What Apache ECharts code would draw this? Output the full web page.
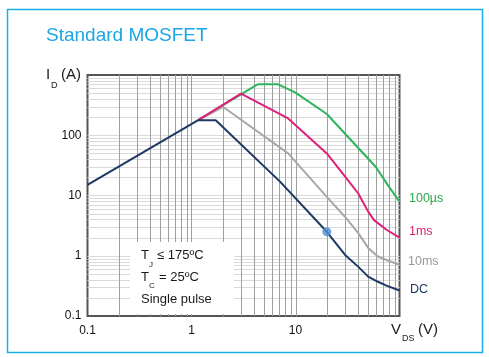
<!DOCTYPE html>
<html>
<head>
<meta charset="utf-8">
<script src="https://cdn.jsdelivr.net/npm/echarts@6/dist/echarts.min.js"></script>
<style>
html,body{margin:0;padding:0;background:#fff;}
#chart{width:489px;height:357px;}
</style>
</head>
<body>
<div id="chart"></div>
<script>
// ---- data ----
var xTickLabels = ['0.1', '1', '10'];
var yTickLabels = ['0.1', '1', '10', '100'];
var xGrid = [0.2,0.3,0.4,0.5,0.6,0.7,0.8,0.9,1,2,3,4,5,6,7,8,9,10,20,30,40,50,60,70,80,90];
var yGrid = [0.2,0.3,0.4,0.5,0.6,0.7,0.8,0.9,1,2,3,4,5,6,7,8,9,10,20,30,40,50,60,70,80,90,100,200,300,400,500,600,700,800,900];

var dcV = [0.1, 1.16, 1.71, 7.1, 20, 30, 40, 50, 62, 75, 100];
var dcI = [15, 178, 178, 17, 2.5, 1.03, 0.66, 0.45, 0.37, 0.32, 0.265];

var ms10V = [1.16, 2.02, 8.5, 20, 30, 40, 50, 62, 75, 100];
var ms10I = [178, 295, 50, 9.5, 4.4, 2.4, 1.35, 0.97, 0.85, 0.71];

var ms1V = [1.16, 2.99, 8.5, 20, 30, 40, 50, 57, 75, 100];
var ms1I = [178, 492, 190, 50, 20.5, 10.9, 5.4, 3.9, 2.7, 2.0];

var us100V = [1.16, 4.32, 6.8, 10, 20, 59, 77, 100];
var us100I = [178, 701, 701, 510, 225, 30, 15, 7.9];

var markerV = [20];
var markerI = [2.5];

var seriesNames = ['100µs', '1ms', '10ms', 'DC'];

// ---- helpers ----
function pairs(a, b) { return a.map(function (v, i) { return [v, b[i]]; }); }
function findLabel(v, list) {
  for (var i = 0; i < list.length; i++) {
    if (Math.abs(Math.log10(v) - Math.log10(parseFloat(list[i]))) < 1e-6) return list[i];
  }
  return '';
}
var X_MIN = 0.1, X_MAX = 100, Y_MIN = 0.1, Y_MAX = 1000;
var FONT = 'Liberation Sans, Arial, sans-serif';

function gridRender(color, vertical) {
  return function (params, api) {
    var p1, p2;
    if (vertical) {
      p1 = api.coord([api.value(0), Y_MIN]);
      p2 = api.coord([api.value(0), Y_MAX]);
      var x = Math.round(p1[0]) + 0.5;
      return {type: 'line', shape: {x1: x, y1: p1[1], x2: x, y2: p2[1]},
              style: {stroke: color, lineWidth: 1}, silent: true};
    } else {
      p1 = api.coord([X_MIN, api.value(1)]);
      p2 = api.coord([X_MAX, api.value(1)]);
      var y = Math.round(p1[1]) + 0.5;
      return {type: 'line', shape: {x1: p1[0], y1: y, x2: p2[0], y2: y},
              style: {stroke: color, lineWidth: 1}, silent: true};
    }
  };
}

var chart = echarts.init(document.getElementById('chart'), null, {renderer: 'canvas'});
var option = {
  animation: false,
  backgroundColor: '#ffffff',
  title: {
    text: 'Standard MOSFET',
    left: 41, top: 21,
    textStyle: {color: '#1aa6e4', fontSize: 19, fontWeight: 'normal', fontFamily: FONT}
  },
  grid: {
    left: 87.5, right: 89.5, top: 75, bottom: 41,
    show: true, borderColor: '#555555', borderWidth: 2, backgroundColor: 'transparent'
  },
  xAxis: {
    type: 'log', logBase: 10, min: X_MIN, max: X_MAX,
    axisLine: {show: false}, axisTick: {show: false}, splitLine: {show: false},
    axisLabel: {
      margin: 9, color: '#111', fontSize: 12, fontFamily: FONT,
      formatter: function (v) { return findLabel(v, xTickLabels); }
    }
  },
  yAxis: {
    type: 'log', logBase: 10, min: Y_MIN, max: Y_MAX,
    axisLine: {show: false}, axisTick: {show: false}, splitLine: {show: false},
    axisLabel: {
      margin: 6, color: '#111', fontSize: 12, fontFamily: FONT,
      formatter: function (v) { return findLabel(v, yTickLabels); }
    }
  },
  series: [
    {type: 'custom', z: 1, silent: true, renderItem: gridRender('#dadada', false),
     data: yGrid.map(function (v) { return [1, v]; }), encode: {x: 0, y: 1}},
    {type: 'custom', z: 1, silent: true, renderItem: gridRender('#a0a0a0', true),
     data: xGrid.map(function (v) { return [v, 1]; }), encode: {x: 0, y: 1}},
    {name: seriesNames[0], type: 'line', z: 3, data: pairs(us100V, us100I), showSymbol: false, symbol: 'none',
     lineStyle: {color: '#2db45c', width: 2}},
    {name: seriesNames[2], type: 'line', z: 4, data: pairs(ms10V, ms10I), showSymbol: false, symbol: 'none',
     lineStyle: {color: '#a8a8a8', width: 2}},
    {name: seriesNames[1], type: 'line', z: 5, data: pairs(ms1V, ms1I), showSymbol: false, symbol: 'none',
     lineStyle: {color: '#e01f78', width: 2}},
    {name: seriesNames[3], type: 'line', z: 6, data: pairs(dcV, dcI), showSymbol: false, symbol: 'none',
     lineStyle: {color: '#1d3863', width: 2}},
    {type: 'scatter', z: 7, data: pairs(markerV, markerI), symbolSize: 9,
     itemStyle: {color: '#4d8fd1'}}
  ],
  graphic: [
    {type: 'rect', z: 100, shape: {x: 7.5, y: 9.5, width: 475, height: 343},
     style: {fill: 'none', stroke: '#1aaee8', lineWidth: 1.5}},
    {type: 'rect', z: 100, shape: {x: 130, y: 242, width: 104, height: 72},
     style: {fill: '#ffffff'}},
    // annotation box
    {type: 'text', z: 101, left: 141, top: 249, style: {text: 'T', fontSize: 13, fontFamily: FONT, fill: '#1a1a1a'}},
    {type: 'text', z: 101, left: 149, top: 261, style: {text: 'J', fontSize: 8, fontFamily: FONT, fill: '#1a1a1a'}},
    {type: 'text', z: 101, left: 157, top: 249, style: {text: '≤ 175ºC', fontSize: 13, fontFamily: FONT, fill: '#1a1a1a'}},
    {type: 'text', z: 101, left: 141, top: 271, style: {text: 'T', fontSize: 13, fontFamily: FONT, fill: '#1a1a1a'}},
    {type: 'text', z: 101, left: 149, top: 282, style: {text: 'C', fontSize: 8, fontFamily: FONT, fill: '#1a1a1a'}},
    {type: 'text', z: 101, left: 159, top: 271, style: {text: '= 25ºC', fontSize: 13, fontFamily: FONT, fill: '#1a1a1a'}},
    {type: 'text', z: 101, left: 141, top: 293, style: {text: 'Single pulse', fontSize: 13, fontFamily: FONT, fill: '#1a1a1a'}},
    // axis names
    {type: 'text', z: 101, left: 46, top: 67, style: {text: 'I', fontSize: 15, fontFamily: FONT, fill: '#1a1a1a'}},
    {type: 'text', z: 101, left: 51, top: 81, style: {text: 'D', fontSize: 9, fontFamily: FONT, fill: '#1a1a1a'}},
    {type: 'text', z: 101, left: 61, top: 67, style: {text: '(A)', fontSize: 15, fontFamily: FONT, fill: '#1a1a1a'}},
    {type: 'text', z: 101, left: 391, top: 322, style: {text: 'V', fontSize: 15, fontFamily: FONT, fill: '#1a1a1a'}},
    {type: 'text', z: 101, left: 402, top: 334, style: {text: 'DS', fontSize: 9, fontFamily: FONT, fill: '#1a1a1a'}},
    {type: 'text', z: 101, left: 418, top: 322, style: {text: '(V)', fontSize: 15, fontFamily: FONT, fill: '#1a1a1a'}},
    // series labels
    {type: 'text', z: 101, left: 409, top: 192, style: {text: seriesNames[0], fontSize: 12.5, fontFamily: FONT, fill: '#2aa84c'}},
    {type: 'text', z: 101, left: 409, top: 225, style: {text: seriesNames[1], fontSize: 12.5, fontFamily: FONT, fill: '#e01f70'}},
    {type: 'text', z: 101, left: 408, top: 255, style: {text: seriesNames[2], fontSize: 12.5, fontFamily: FONT, fill: '#999999'}},
    {type: 'text', z: 101, left: 410, top: 283, style: {text: seriesNames[3], fontSize: 12.5, fontFamily: FONT, fill: '#1d3863'}}
  ]
};
chart.setOption(option);
</script>
</body>
</html>
